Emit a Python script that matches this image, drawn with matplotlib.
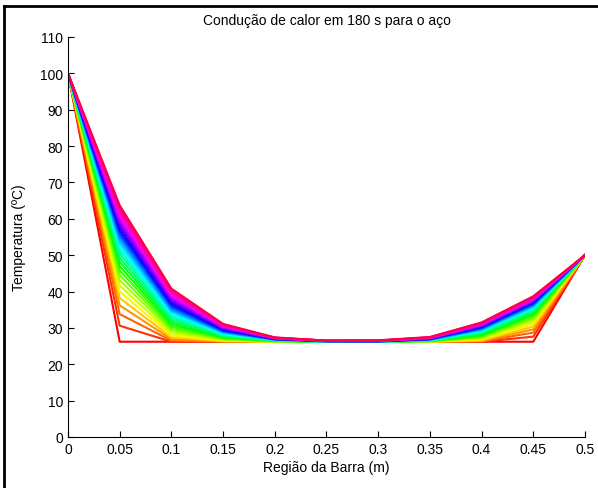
import matplotlib
matplotlib.use("Agg")
import matplotlib.pyplot as plt
from matplotlib.lines import Line2D
import numpy as np

plt.rcParams['font.family'] = ['Liberation Sans', 'DejaVu Sans']

# bar positions (m)
x_nodes = [0.0, 0.05, 0.1, 0.15, 0.2, 0.25, 0.3, 0.35, 0.4, 0.45, 0.5]

# temperature at each node, one value per plotted time step
t_000 = [100.0] * 30
t_005 = [26.2, 30.6, 33.8, 36.2, 38.2, 40.0, 41.6, 43.1, 44.5, 45.8,
         47.0, 48.2, 49.3, 50.4, 51.4, 52.4, 53.3, 54.2, 55.1, 55.9,
         56.7, 57.5, 58.3, 59.0, 59.8, 60.5, 61.3, 62.1, 62.9, 63.7]
t_010 = [26.2, 26.2, 26.5, 26.9, 27.4, 27.9, 28.5, 29.1, 29.7, 30.3,
         30.9, 31.5, 32.1, 32.7, 33.3, 33.8, 34.4, 34.9, 35.4, 35.9,
         36.4, 36.9, 37.4, 37.9, 38.4, 38.8, 39.3, 39.8, 40.3, 40.8]
t_015 = [26.2, 26.2, 26.2, 26.3, 26.4, 26.5, 26.6, 26.8, 27.0, 27.2,
         27.4, 27.6, 27.8, 28.0, 28.2, 28.4, 28.6, 28.8, 29.0, 29.2,
         29.4, 29.6, 29.8, 30.0, 30.2, 30.4, 30.6, 30.8, 30.9, 31.1]
t_020 = [26.2, 26.2, 26.2, 26.2, 26.2, 26.2, 26.3, 26.3, 26.3, 26.4,
         26.4, 26.5, 26.5, 26.6, 26.6, 26.7, 26.7, 26.8, 26.8, 26.9,
         26.9, 27.0, 27.0, 27.1, 27.1, 27.2, 27.2, 27.3, 27.3, 27.4]
t_025 = [26.2, 26.2, 26.2, 26.2, 26.2, 26.2, 26.2, 26.2, 26.2, 26.2,
         26.2, 26.2, 26.2, 26.2, 26.3, 26.3, 26.3, 26.3, 26.3, 26.3,
         26.4, 26.4, 26.4, 26.4, 26.4, 26.4, 26.5, 26.5, 26.5, 26.5]
t_030 = [26.2, 26.2, 26.2, 26.2, 26.2, 26.2, 26.2, 26.2, 26.2, 26.2,
         26.2, 26.2, 26.2, 26.2, 26.2, 26.3, 26.3, 26.3, 26.3, 26.3,
         26.3, 26.4, 26.4, 26.4, 26.4, 26.4, 26.5, 26.5, 26.5, 26.6]
t_035 = [26.2, 26.2, 26.2, 26.2, 26.2, 26.2, 26.3, 26.3, 26.3, 26.4,
         26.4, 26.5, 26.5, 26.6, 26.6, 26.7, 26.7, 26.8, 26.8, 26.9,
         26.9, 27.0, 27.0, 27.1, 27.2, 27.2, 27.3, 27.4, 27.4, 27.5]
t_040 = [26.2, 26.2, 26.3, 26.4, 26.6, 26.8, 27.0, 27.3, 27.5, 27.8,
         28.0, 28.3, 28.5, 28.7, 29.0, 29.2, 29.4, 29.6, 29.8, 30.0,
         30.2, 30.4, 30.5, 30.7, 30.8, 31.0, 31.1, 31.3, 31.4, 31.5]
t_045 = [26.2, 27.6, 28.7, 29.6, 30.4, 31.1, 31.7, 32.3, 32.8, 33.3,
         33.7, 34.1, 34.5, 34.9, 35.2, 35.5, 35.8, 36.1, 36.4, 36.6,
         36.9, 37.1, 37.3, 37.5, 37.7, 37.9, 38.1, 38.3, 38.5, 38.7]
t_050 = [50.0] * 30

profiles = np.array([t_000, t_005, t_010, t_015, t_020, t_025,
                     t_030, t_035, t_040, t_045, t_050]).T

x_ticks = [0, 0.05, 0.1, 0.15, 0.2, 0.25, 0.3, 0.35, 0.4, 0.45, 0.5]
x_ticklabels = ['0', '0.05', '0.1', '0.15', '0.2', '0.25', '0.3',
                '0.35', '0.4', '0.45', '0.5']
y_ticks = list(range(0, 111, 10))

fig = plt.figure(figsize=(5.98, 4.89), dpi=100)
ax = fig.add_axes([0.1137, 0.1043, 0.8645, 0.818])

n = len(profiles)
cmap = plt.get_cmap('hsv')
for i, row in enumerate(profiles):
    ax.plot(x_nodes, row, color=cmap(i / n), linewidth=1.5)

ax.set_xlim(0, 0.5)
ax.set_ylim(0, 110)
ax.set_xticks(x_ticks)
ax.set_xticklabels(x_ticklabels)
ax.set_yticks(y_ticks)
ax.tick_params(direction='in', length=4, labelsize=10, width=0.8)
ax.spines['top'].set_visible(False)
ax.spines['right'].set_visible(False)
ax.set_title('Condução de calor em 180 s para o aço', fontsize=10, pad=9)
ax.set_xlabel('Região da Barra (m)', fontsize=10, labelpad=3)
ax.set_ylabel('Temperatura (ºC)', fontsize=10, labelpad=10)

# screenshot frame (left and top edges)
fig.add_artist(Line2D([0.007, 0.007], [0, 0.986], transform=fig.transFigure,
                      color='black', linewidth=2))
fig.add_artist(Line2D([0.007, 1.0], [0.986, 0.986], transform=fig.transFigure,
                      color='black', linewidth=2))

fig.savefig('out.png', dpi=100)
